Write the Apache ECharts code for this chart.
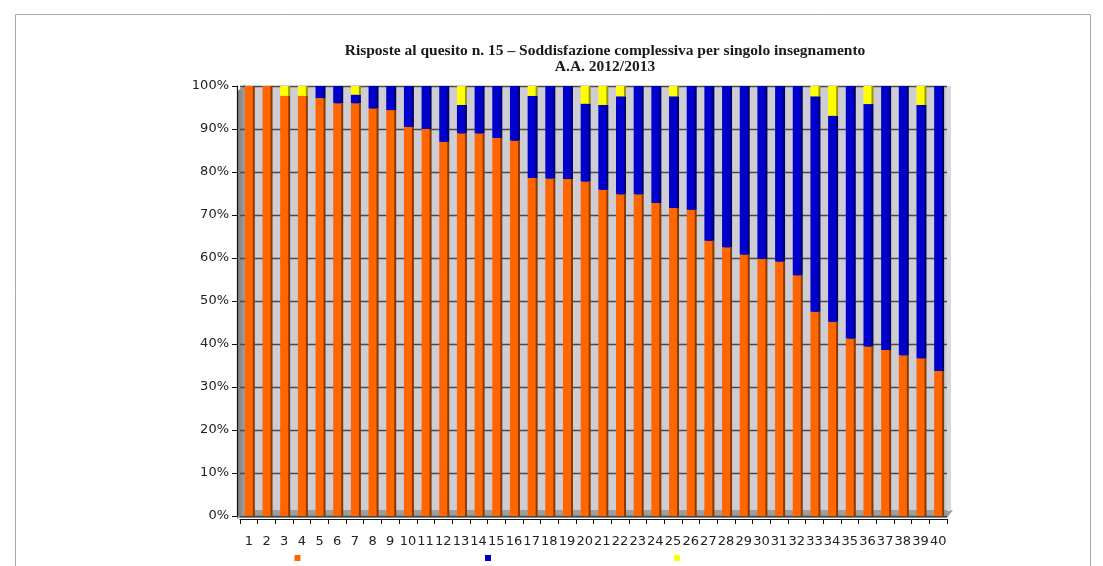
<!DOCTYPE html>
<html>
<head>
<meta charset="utf-8">
<script src="https://cdn.jsdelivr.net/npm/echarts@6/dist/echarts.min.js"></script>
<style>
  html, body { margin: 0; padding: 0; background: #ffffff; }
  #chart { width: 1103px; height: 566px; }
</style>
</head>
<body>
<div id="chart"></div>
<script>
// Course numbers along the x axis
const categories = Array.from({ length: 40 }, (_, i) => String(i + 1));

// Share of answers per course (percent)
const soddisfatti = [
  100, 100, 97.7, 97.7, 97.2, 96.0, 96.0, 94.8, 94.4, 90.5,
  90.0, 87.0, 89.0, 89.0, 87.9, 87.3, 78.6, 78.5, 78.4, 77.8,
  75.9, 74.8, 74.8, 72.8, 71.6, 71.2, 64.0, 62.5, 60.8, 59.8,
  59.2, 56.0, 47.5, 45.2, 41.3, 39.4, 38.6, 37.4, 36.7, 33.7
];
const nonSoddisfatti = [
  0, 0, 0, 0, 2.8, 4.0, 2.0, 5.2, 5.6, 9.5,
  10.0, 13.0, 6.6, 11.0, 12.1, 12.7, 19.1, 21.5, 21.6, 18.1,
  19.7, 22.8, 25.2, 27.2, 26.0, 28.8, 36.0, 37.5, 39.2, 40.2,
  40.8, 44.0, 50.1, 47.9, 58.7, 56.4, 61.4, 62.6, 58.9, 66.3
];
const nonRisponde = [
  0, 0, 2.3, 2.3, 0, 0, 2.0, 0, 0, 0,
  0, 0, 4.4, 0, 0, 0, 2.3, 0, 0, 4.1,
  4.4, 2.4, 0, 0, 2.4, 0, 0, 0, 0, 0,
  0, 0, 2.4, 6.9, 0, 4.2, 0, 0, 4.4, 0
];

// Y axis ticks
const yMin = 0, yMax = 100, yStep = 10;

const gridLeft = 240, gridTop = 86, gridWidth = 707, gridHeight = 430;

const chart = echarts.init(document.getElementById('chart'), null, { renderer: 'canvas' });

function legendAt(name, x) {
  return {
    data: [name],
    left: x,
    top: 555,
    padding: 0,
    itemWidth: 6,
    itemHeight: 6,
    icon: 'rect',
    selectedMode: false,
    formatter: () => '',
    textStyle: { fontSize: 1 }
  };
}

function barSeries(name, data, color, side) {
  return {
    name: name,
    type: 'bar',
    stack: 'tot',
    z: 3,
    data: data,
    barWidth: 8,
    itemStyle: {
      color: color,
      shadowColor: side,
      shadowOffsetX: 2,
      shadowOffsetY: 0,
      shadowBlur: 0
    },
    emphasis: { disabled: true },
    animation: false
  };
}

chart.setOption({
  animation: false,
  backgroundColor: '#ffffff',
  title: {
    text: 'Risposte al quesito n. 15 \u2013 Soddisfazione complessiva per singolo insegnamento\nA.A. 2012/2013',
    left: 600,
    top: 38,
    textAlign: 'center',
    textStyle: {
      fontFamily: 'Liberation Serif',
      fontWeight: 'bold',
      fontSize: 15.5,
      lineHeight: 16,
      color: '#1a1a1a'
    }
  },
  legend: [
    legendAt('Soddisfatti', 294.5),
    legendAt('Non soddisfatti', 485),
    legendAt('Non risponde', 674)
  ],
  grid: {
    left: gridLeft,
    top: gridTop,
    width: gridWidth,
    height: gridHeight,
    show: true,
    z: 0,
    backgroundColor: '#cdcdd3',
    borderWidth: 0
  },
  graphic: [
    // outer frame of the chart area
    {
      type: 'rect',
      z: 1,
      silent: true,
      shape: { x: 15.5, y: 14.5, width: 1075, height: 570 },
      style: { fill: 'none', stroke: '#a8a8a8', lineWidth: 1 }
    },
    // floor of the plot
    {
      type: 'polygon',
      z: 1,
      silent: true,
      shape: { points: [[238, 518], [244, 510], [953, 510], [947, 518]] },
      style: { fill: '#9e9e9e' }
    },
    // left side wall
    {
      type: 'polygon',
      z: 1,
      silent: true,
      shape: { points: [[237, 92], [245, 84], [245, 511], [237, 519]] },
      style: {
        fill: new echarts.graphic.LinearGradient(0, 0, 1, 0, [
          { offset: 0, color: '#7a7a7a' },
          { offset: 1, color: '#a0a0a0' }
        ])
      }
    },
    // right edge of the back wall
    {
      type: 'rect',
      z: 1,
      silent: true,
      shape: { x: 947, y: 86, width: 4, height: 425 },
      style: { fill: '#d8d8dc' }
    }
  ],
  xAxis: {
    type: 'category',
    data: categories,
    boundaryGap: true,
    offset: 3,
    z: 6,
    axisLine: { show: true, onZero: false, lineStyle: { color: '#111', width: 1.2 } },
    axisTick: { show: true, inside: false, length: 5, lineStyle: { color: '#111' } },
    axisLabel: {
      interval: 0,
      margin: 16,
      fontFamily: 'DejaVu Sans',
      fontSize: 13,
      color: '#222'
    },
    splitLine: { show: false }
  },
  yAxis: {
    type: 'value',
    min: yMin,
    max: yMax,
    interval: yStep,
    offset: 3,
    z: 2,
    axisLine: { show: true, lineStyle: { color: '#111', width: 1.2 } },
    axisTick: { show: true, length: 5, lineStyle: { color: '#111' } },
    axisLabel: {
      formatter: '{value}%',
      margin: 8,
      fontFamily: 'DejaVu Sans',
      fontSize: 13,
      color: '#222'
    },
    splitLine: { show: true, lineStyle: { color: '#4a4a4a', width: 1.3 } }
  },
  series: [
    barSeries('Soddisfatti', soddisfatti, '#ff6600', '#8a3a00'),
    barSeries('Non soddisfatti', nonSoddisfatti, '#0000cc', '#000066'),
    barSeries('Non risponde', nonRisponde, '#ffff00', '#9a9a00')
  ]
});
</script>
</body>
</html>
